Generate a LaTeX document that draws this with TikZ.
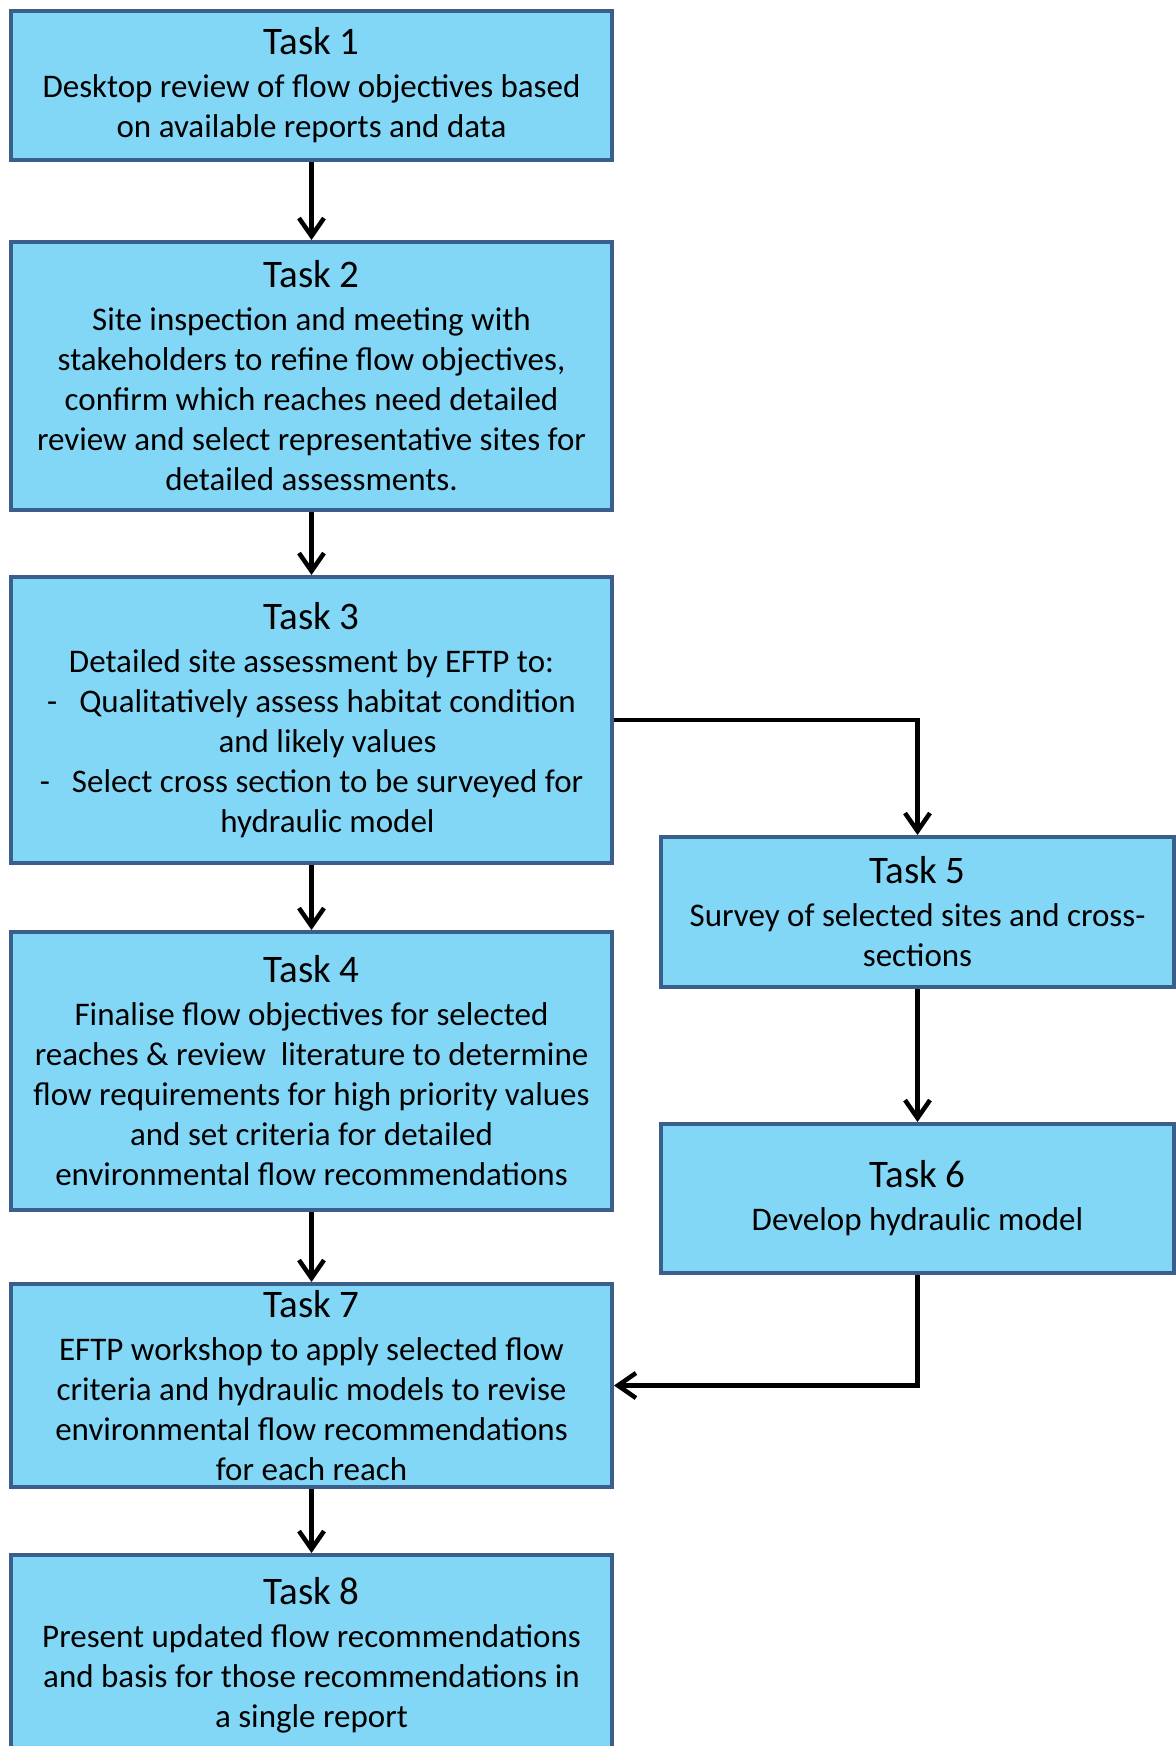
\documentclass[tikz,border=0pt]{standalone}
\usepackage{fontspec}
\setmainfont{Carlito}
\usetikzlibrary{arrows.meta}
\definecolor{taskfill}{HTML}{82D7F7}
\definecolor{taskline}{HTML}{3A5F8B}
\newcommand{\tasktitle}[1]{{\fontsize{19.5}{21.5}\selectfont #1}\\[1.5pt]}

\begin{document}
\begin{tikzpicture}[x=0.5pt,y=-0.5pt,
    task/.style={draw=taskline,fill=taskfill,line width=2pt,rectangle,align=center,
      inner sep=0pt,minimum width=300.5pt,font=\fontsize{16.5}{20}\selectfont},
    flow/.style={-{Straight Barb[length=9pt,width=12.5pt]},line width=2.25pt}]
      % Page frame
      \useasboundingbox (0,0) rectangle (1175,1746);
      % Left column of tasks
      \node[task,minimum height=74.5pt] (t1) at (311.5,85.5)
        {\tasktitle{Task 1}Desktop review of flow objectives based\\
         on available reports and data};
      \node[task,minimum height=134pt] (t2) at (311.5,376)
        {\tasktitle{Task 2}Site inspection and meeting with\\
         stakeholders to refine flow objectives,\\
         confirm which reaches need detailed\\
         review and select representative sites for\\
         detailed assessments.};
      \node[task,minimum height=143pt] (t3) at (311.5,720)
        {\tasktitle{Task 3}Detailed site assessment by EFTP to:\\
         -\hspace{11pt}Qualitatively assess habitat condition\\
         \hspace*{16pt}and likely values\\
         -\hspace{11pt}Select cross section to be surveyed for\\
         \hspace*{16pt}hydraulic model};
      \node[task,minimum height=139pt] (t4) at (311.5,1071)
        {\tasktitle{Task 4}Finalise flow objectives for selected\\
         reaches \& review \ literature to determine\\
         flow requirements for high priority values\\
         and set criteria for detailed\\
         environmental flow recommendations};
      \node[task,minimum height=101.5pt] (t7) at (311.5,1385.5)
        {\tasktitle{Task 7}EFTP workshop to apply selected flow\\
         criteria and hydraulic models to revise\\
         environmental flow recommendations\\
         for each reach};
      \node[task,minimum height=100pt] (t8) at (311.5,1655)
        {\tasktitle{Task 8}Present updated flow recommendations\\
         and basis for those recommendations in\\
         a single report};
      % Right column of tasks
      \node[task,minimum width=256.5pt,minimum height=75pt] (t5) at (917.5,912)
        {\tasktitle{Task 5}Survey of selected sites and cross-\\
         sections};
      \node[task,minimum width=256.5pt,minimum height=74.5pt] (t6) at (917.5,1198.5)
        {\tasktitle{Task 6}Develop hydraulic model};
      % Draw the arrows
      \draw[flow] (t1) -- (t2);
      \draw[flow] (t2) -- (t3);
      \draw[flow] (t3) -- (t4);
      \draw[flow] (t4) -- (t7);
      \draw[flow] (t7) -- (t8);
      \draw[flow] (t3.east) -| (t5.north);
      \draw[flow] (t5) -- (t6);
      \draw[flow] (t6.south) |- (t7.east);
    \end{tikzpicture}
\end{document}
